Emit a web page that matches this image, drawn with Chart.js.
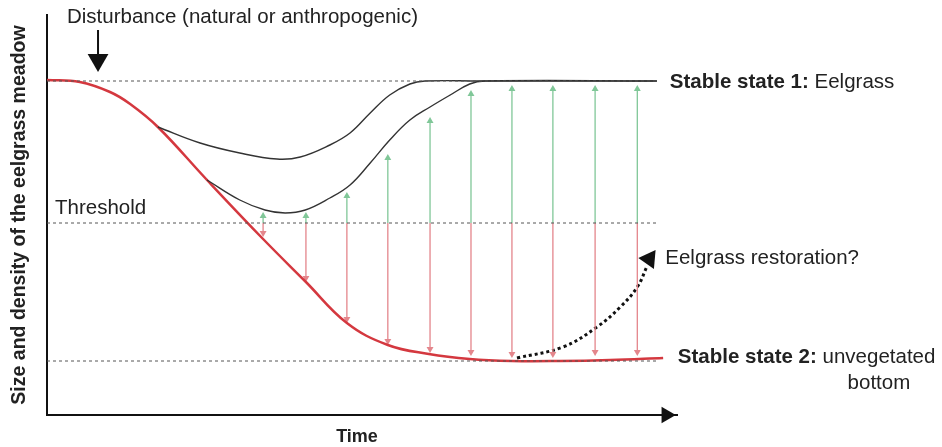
<!DOCTYPE html>
<html>
<head>
<meta charset="utf-8">
<script src="https://cdn.jsdelivr.net/npm/chart.js@4.4.1/dist/chart.umd.min.js"></script>
<style>
  html, body { margin: 0; padding: 0; background: #fff; }
  #wrap { width: 942px; height: 447px; position: relative; }
</style>
</head>
<body>
<div id="wrap"><canvas id="diagram"></canvas></div>
<script>
// Time runs 0–100 along x, meadow size/density 0–100 along y

// reference levels
const stableHigh = 83.5;
const threshold = 48;
const stableLow = 13.5;
const levelEnd = 96.8;

// collapse path (red)
const declineX = [0, 5.2, 10, 13.2, 17.6, 25.4, 34.3, 41.1, 47.6, 54.1, 60.6, 67.1, 73.8, 81.4, 89.4, 97.8];
const declineY = [83.75, 83.25, 80.75, 77.75, 72, 58.75, 44, 33.25, 23, 17.5, 15.25, 14, 13.5, 13.5, 13.75, 14.25];

// recovery paths (black)
const recoverAX = [17.6, 24.3, 30.6, 36.5, 40.2, 44.9, 48.1, 51.3, 54.4, 57.6, 60, 68.7, 96.8];
const recoverAY = [72, 68, 65.5, 64, 64.5, 67.5, 70.5, 75.5, 80, 82.75, 83.5, 83.5, 83.5];
const recoverBX = [25.4, 30.6, 34.6, 37.8, 41, 44.9, 48.1, 51.3, 54.4, 57.6, 60.8, 64, 67.1, 69.5, 96.8];
const recoverBY = [58.75, 53.75, 51.25, 50.5, 51.25, 54.25, 57.5, 63, 68.75, 73.75, 77, 80, 82.75, 83.5, 83.5];

// threshold arrows: green up, red down (arrowhead centres)
const arrowX = [34.3, 41.1, 47.6, 54.1, 60.8, 67.3, 73.8, 80.3, 87.0, 93.7];
const arrowUpTo = [49.75, 49.75, 54.75, 64.25, 73.5, 80.25, 81.5, 81.5, 81.5, 81.5];
const arrowDownTo = [45.5, 34.25, 24, 18.5, 16.5, 15.75, 15.25, 15.25, 15.75, 15.75];

// restoration (dotted)
const restoreX = [74.6, 81.9, 87.3, 91, 93.7, 95.2];
const restoreY = [14.25, 17, 22, 27, 32, 37];
const restoreHead = [95.6, 39];

// disturbance arrow
const disturbX = 8.1;
const disturbY = [96.25, 88.75];

const FONT = "'Liberation Sans', Arial, Helvetica, sans-serif";
const GREEN = '#80c798';
const PINK = '#e4868c';

const zip = (xs, ys) => xs.map((x, i) => ({ x, y: ys[i] }));

function levelLine(y) {
  return {
    data: [{ x: 0, y }, { x: levelEnd, y }],
    borderColor: '#555',
    borderWidth: 1,
    borderDash: [3, 3],
    pointRadius: 0
  };
}

function curve(xs, ys, color, width) {
  return {
    data: zip(xs, ys),
    borderColor: color,
    borderWidth: width,
    tension: 0.4,
    pointRadius: 0
  };
}

function arrow(x, from, to, color, rot, size) {
  return {
    data: [{ x, y: from }, { x, y: to }],
    borderColor: color,
    backgroundColor: color,
    borderWidth: 1.3,
    pointStyle: 'triangle',
    pointRadius: [0, size],
    pointBorderWidth: 0,
    pointRotation: rot,
    clip: false
  };
}

const datasets = [
  levelLine(stableHigh),
  levelLine(threshold),
  levelLine(stableLow),
  curve(recoverAX, recoverAY, '#333', 1.4),
  curve(recoverBX, recoverBY, '#333', 1.4),
  curve(declineX, declineY, '#d4383f', 2.5)
];

arrowX.forEach((x, i) => {
  datasets.push(arrow(x, threshold, arrowUpTo[i], GREEN, 0, 4));
  datasets.push(arrow(x, threshold, arrowDownTo[i], PINK, 180, 4));
});

// dotted restoration path + head
datasets.push({
  data: zip(restoreX, restoreY),
  borderColor: '#111',
  borderWidth: 3,
  borderDash: [3, 3],
  tension: 0.4,
  pointRadius: 0,
  clip: false
});
datasets.push({
  data: [{ x: restoreHead[0], y: restoreHead[1] }],
  backgroundColor: '#111',
  pointStyle: 'triangle',
  pointRadius: 11,
  pointBorderWidth: 0,
  pointRotation: -85,
  showLine: false,
  clip: false
});

// disturbance arrow
const disturb = arrow(disturbX, disturbY[0], disturbY[1], '#111', 180, 12);
disturb.borderWidth = 2;
datasets.push(disturb);

// time axis arrowhead
datasets.push({
  data: [{ x: 98.3, y: 0 }],
  backgroundColor: '#111',
  pointStyle: 'triangle',
  pointRadius: 9.5,
  pointBorderWidth: 0,
  pointRotation: 90,
  showLine: false,
  clip: false
});

// text labels drawn against the scales
const notes = {
  id: 'notes',
  afterDatasetsDraw(chart) {
    const { ctx, chartArea, scales: { x, y } } = chart;
    const size = 20.5;
    ctx.save();
    ctx.fillStyle = '#222';
    ctx.textBaseline = 'middle';
    ctx.textAlign = 'left';

    ctx.font = `${size}px ${FONT}`;
    ctx.fillText('Disturbance (natural or anthropogenic)', 67, 17);
    ctx.fillText('Threshold', 55, y.getPixelForValue(threshold) - 15);
    ctx.fillText('Eelgrass restoration?', x.getPixelForValue(restoreHead[0]) + 16, y.getPixelForValue(restoreHead[1]) - 1);

    // stable state 1
    let sx = x.getPixelForValue(levelEnd) + 13;
    let sy = y.getPixelForValue(stableHigh) + 1;
    ctx.font = `bold ${size}px ${FONT}`;
    ctx.fillText('Stable state 1:', sx, sy);
    let w = ctx.measureText('Stable state 1: ').width;
    ctx.font = `${size}px ${FONT}`;
    ctx.fillText('Eelgrass', sx + w, sy);

    // stable state 2
    sx = x.getPixelForValue(levelEnd) + 21;
    sy = y.getPixelForValue(stableLow) - 4;
    ctx.font = `bold ${size}px ${FONT}`;
    ctx.fillText('Stable state 2:', sx, sy);
    w = ctx.measureText('Stable state 2: ').width;
    ctx.font = `${size}px ${FONT}`;
    ctx.fillText('unvegetated', sx + w, sy);
    const uw = ctx.measureText('unvegetated').width;
    ctx.textAlign = 'center';
    ctx.fillText('bottom', sx + w + uw / 2, sy + 26);

    // axis titles
    ctx.font = `bold 18px ${FONT}`;
    ctx.fillText('Time', (chartArea.left + chartArea.right) / 2 - 5, 437);
    ctx.font = `bold 19.5px ${FONT}`;
    ctx.translate(20, (chartArea.top + chartArea.bottom) / 2);
    ctx.rotate(-Math.PI / 2);
    ctx.fillText('Size and density of the eelgrass meadow', 0, 0);
    ctx.restore();
  }
};

const hiddenAxis = {
  type: 'linear',
  min: 0,
  max: 100,
  ticks: { display: false },
  grid: { display: false, drawTicks: false },
  border: { display: true, color: '#111', width: 2 }
};

new Chart(document.getElementById('diagram'), {
  type: 'line',
  data: { datasets },
  options: {
    responsive: true,
    maintainAspectRatio: false,
    animation: false,
    events: [],
    layout: { padding: { top: 15, right: 265, left: 0, bottom: 0 } },
    plugins: { legend: { display: false }, tooltip: { enabled: false } },
    scales: {
      x: { ...hiddenAxis, afterFit: s => { s.height = 32; } },
      y: { ...hiddenAxis, afterFit: s => { s.width = 47; } }
    }
  },
  plugins: [notes]
});
</script>
</body>
</html>
